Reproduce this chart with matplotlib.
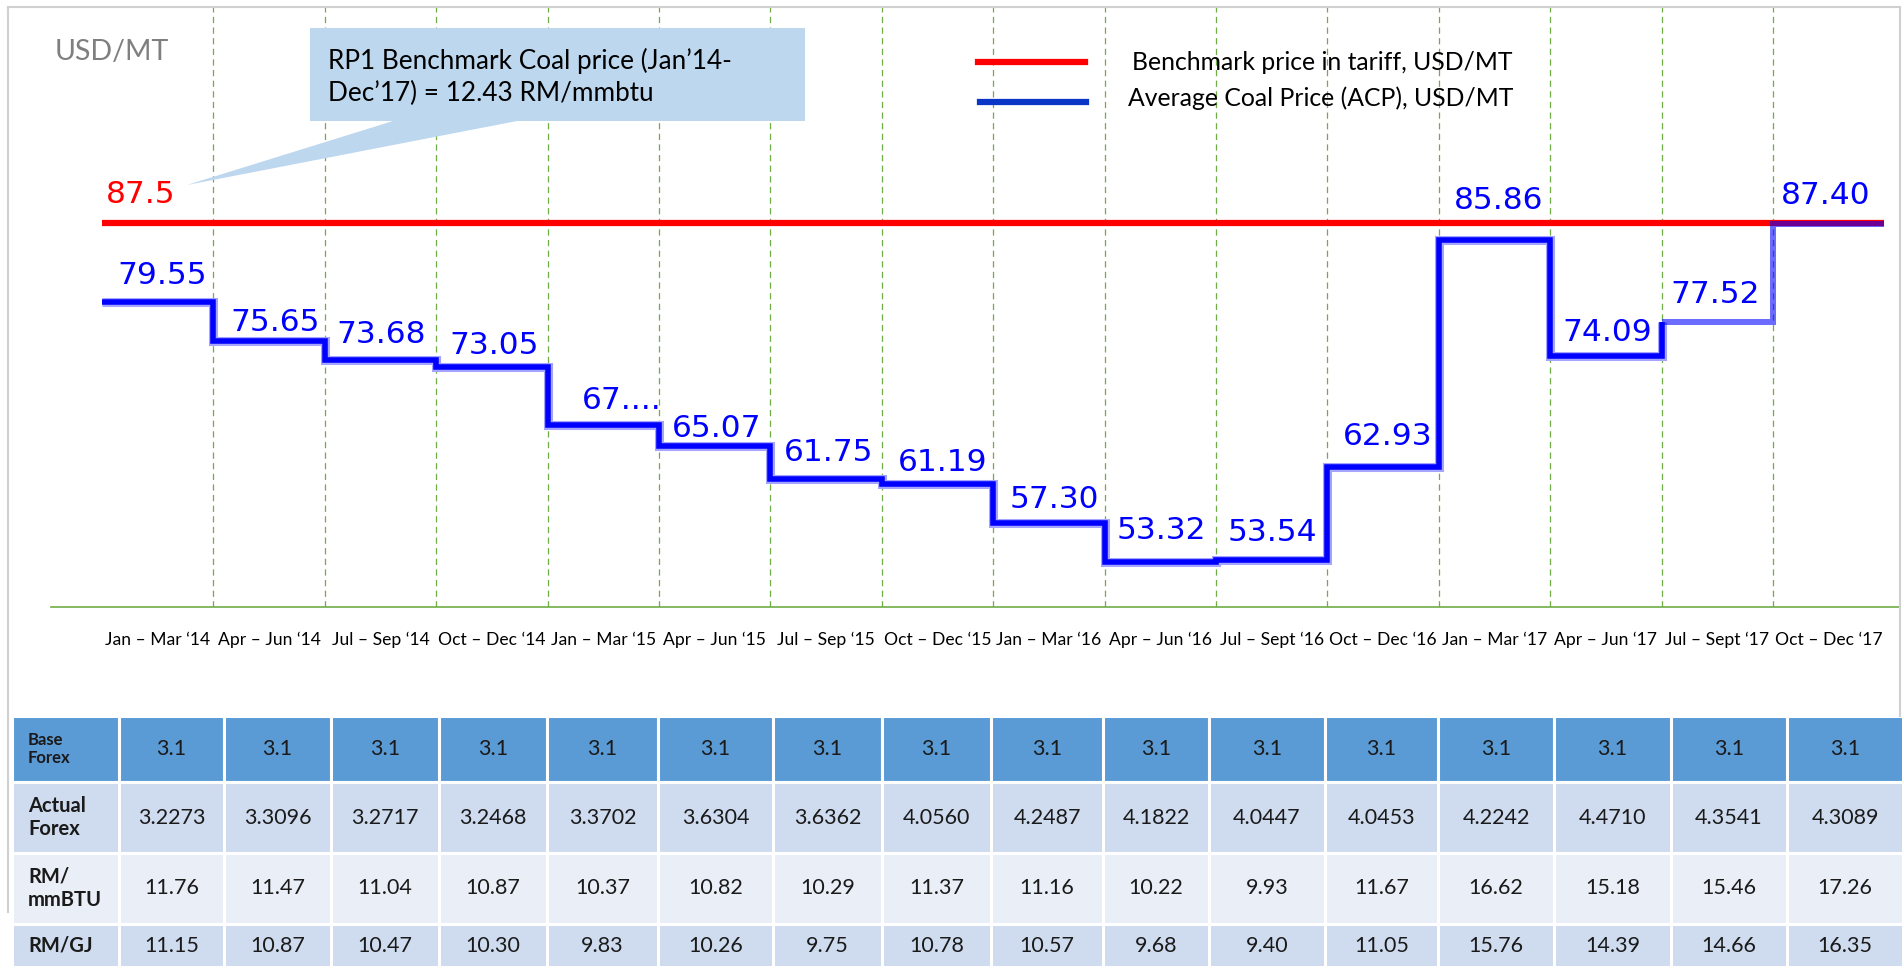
import numpy as np
import matplotlib.pyplot as plt
import matplotlib.transforms as mtransforms
from matplotlib.patches import Polygon
from matplotlib.lines import Line2D

# quarters on the x axis
quarters = ["Jan – Mar ‘14", "Apr – Jun ‘14", "Jul – Sep ‘14", "Oct – Dec ‘14",
            "Jan – Mar ‘15", "Apr – Jun ‘15", "Jul – Sep ‘15", "Oct – Dec ‘15",
            "Jan – Mar ‘16", "Apr – Jun ‘16", "Jul – Sept ‘16", "Oct – Dec ‘16",
            "Jan – Mar ‘17", "Apr – Jun ‘17", "Jul – Sept ‘17", "Oct – Dec ‘17"]

benchmark = 87.5
acp = [79.55, 75.65, 73.68, 73.05, 67.20, 65.07, 61.75, 61.19,
       57.30, 53.32, 53.54, 62.93, 85.86, 74.09, 77.52, 87.40]
acp_labels = ["79.55", "75.65", "73.68", "73.05", "67....", "65.07", "61.75", "61.19",
              "57.30", "53.32", "53.54", "62.93", "85.86", "74.09", "77.52", "87.40"]

# table below the chart
row_labels = ["Base\nForex", "Actual\nForex", "RM/\nmmBTU", "RM/GJ"]
base_forex = ["3.1", "3.1", "3.1", "3.1", "3.1", "3.1", "3.1", "3.1",
              "3.1", "3.1", "3.1", "3.1", "3.1", "3.1", "3.1", "3.1"]
actual_forex = ["3.2273", "3.3096", "3.2717", "3.2468", "3.3702", "3.6304", "3.6362", "4.0560",
                "4.2487", "4.1822", "4.0447", "4.0453", "4.2242", "4.4710", "4.3541", "4.3089"]
rm_mmbtu = ["11.76", "11.47", "11.04", "10.87", "10.37", "10.82", "10.29", "11.37",
            "11.16", "10.22", "9.93", "11.67", "16.62", "15.18", "15.46", "17.26"]
rm_gj = ["11.15", "10.87", "10.47", "10.30", "9.83", "10.26", "9.75", "10.78",
         "10.57", "9.68", "9.40", "11.05", "15.76", "14.39", "14.66", "16.35"]

W, H = 1903, 966
fig = plt.figure(figsize=(W / 100, H / 100), dpi=100)
px = mtransforms.Affine2D().scale(1 / W, -1 / H).translate(0, 1) + fig.transFigure

ax = fig.add_axes([51 / W, 1 - 607 / H, (1900 - 51) / W, 600 / H])
ax.set_xlim(-0.458, 16.14)
ax.set_ylim(48.81, 109.34)

edges = np.arange(len(acp) + 1)

# dashed separators between quarters
for b in edges[1:-1]:
    ax.axvline(b, color="#70ad47", lw=0.9, ls=(0, (5, 3.5)), zorder=1)

# benchmark line
ax.hlines(benchmark, edges[0], edges[-1], color="#ff0000", lw=4.5, zorder=2)

# average coal price steps (dark part with glow, then lighter part)
xs = edges[:15]
ys = acp[:15]
ax.step(xs, ys, where="post", color="#a5a5ff", lw=6.5, solid_joinstyle="miter",
        solid_capstyle="butt", zorder=3)
ax.step(xs, ys, where="post", color="#0000ff", lw=4.0, solid_joinstyle="miter",
        solid_capstyle="butt", zorder=4)
ax.step(edges[14:], acp[14:] + [acp[-1]], where="post", color="#0000ff", alpha=0.58,
        lw=4.3, solid_joinstyle="miter", solid_capstyle="butt", zorder=5)

# value labels
offsets = [(4, 30), (6, 22), (1, 29), (2, 25), (18, 28), (2, 21), (3, 30), (5, 25),
           (5, 27), (1, 35), (1, 31), (5, 34), (4, 43), (1, 27), (-2, 31), (-3, 32)]
for i, (v, t) in enumerate(zip(acp, acp_labels)):
    dx, dy = offsets[i]
    ax.annotate(t, (edges[i] + 0.5, v), xytext=(dx, dy - 12), textcoords="offset pixels",
                ha="center", va="baseline", fontsize=22.5, color="#0000ff",
                family="DejaVu Sans", zorder=6)
ax.annotate("87.5", (edges[0], benchmark), xytext=(39, 20), textcoords="offset pixels",
            ha="center", va="baseline", fontsize=22.5, color="#ff0000", family="DejaVu Sans")

for s in ["top", "left", "right"]:
    ax.spines[s].set_visible(False)
ax.spines["bottom"].set_color("#70ad47")
ax.spines["bottom"].set_linewidth(1.2)
ax.set_yticks([])
ax.set_xticks(edges[:-1] + 0.5)
ax.set_xticklabels(quarters, fontsize=12.6, family="Lato")
ax.tick_params(axis="x", length=0, pad=18)

# outer frame
fig.add_artist(Line2D([8, 8], [7, 912], transform=px, color="#d0d0d0", lw=1.5))
fig.add_artist(Line2D([8, 1900], [7, 7], transform=px, color="#d0d0d0", lw=1.5))
fig.add_artist(Line2D([1900, 1900], [7, 716], transform=px, color="#d0d0d0", lw=1.5))

fig.text(55, 52, "USD/MT", transform=px, ha="left", va="center", fontsize=20.5,
         family="Lato", color="#7f7f7f")

# callout
callout = Polygon([(310, 28), (805, 28), (805, 121), (517, 121), (187, 185), (393, 121), (310, 121)],
                  closed=True, transform=px, facecolor="#bdd7ee", edgecolor="none", zorder=2)
fig.add_artist(callout)
fig.text(328, 77, "RP1 Benchmark Coal price (Jan’14-\nDec’17) = 12.43 RM/mmbtu", transform=px,
         ha="left", va="center", fontsize=18.8, family="Lato", linespacing=1.35, zorder=3)

# legend
fig.add_artist(Line2D([978, 1085], [62, 62], transform=px, color="#ff0000", lw=4.5))
fig.add_artist(Line2D([980, 1086], [102, 102], transform=px, color="#0a36c8", lw=4.5))
fig.text(1513, 62, "Benchmark price in tariff, USD/MT", transform=px, ha="right", va="center",
         fontsize=17.8, family="Lato")
fig.text(1513, 98, "Average Coal Price (ACP), USD/MT", transform=px, ha="right", va="center",
         fontsize=17.8, family="Lato")

# table
tax = fig.add_axes([12 / W, 1 - 968 / H, (1903 - 12) / W, 252 / H])
tax.axis("off")
cell_text = [[row_labels[0]] + base_forex,
             [row_labels[1]] + actual_forex,
             [row_labels[2]] + rm_mmbtu,
             [row_labels[3]] + rm_gj]
col_px = [12, 119, 224, 331, 439, 547, 658, 773, 882, 991, 1103, 1209, 1325, 1438,
          1554, 1671, 1787, 1903]
widths = list(np.diff(col_px) / (col_px[-1] - col_px[0]))
tbl = tax.table(cellText=cell_text, colWidths=widths, bbox=[0, 0, 1, 1], cellLoc="center")
tbl.auto_set_font_size(False)
row_h = [66, 71, 71, 44]
row_colors = ["#5b9bd5", "#cfdbee", "#e9eef7", "#cfdbee"]
for (r, c), cell in tbl.get_celld().items():
    cell.set_height(row_h[r] / sum(row_h))
    cell.set_facecolor(row_colors[r])
    cell.set_edgecolor("white")
    cell.set_linewidth(2.2)
    txt = cell.get_text()
    txt.set_family("Lato")
    txt.set_color("#1a1a1a")
    if c == 0:
        txt.set_horizontalalignment("left")
        cell.PAD = 0.15
        txt.set_fontweight("bold")
        txt.set_fontsize(12 if r == 0 else 14.5)
    else:
        txt.set_fontsize(15.5)

fig.savefig("out.png", dpi=100)
